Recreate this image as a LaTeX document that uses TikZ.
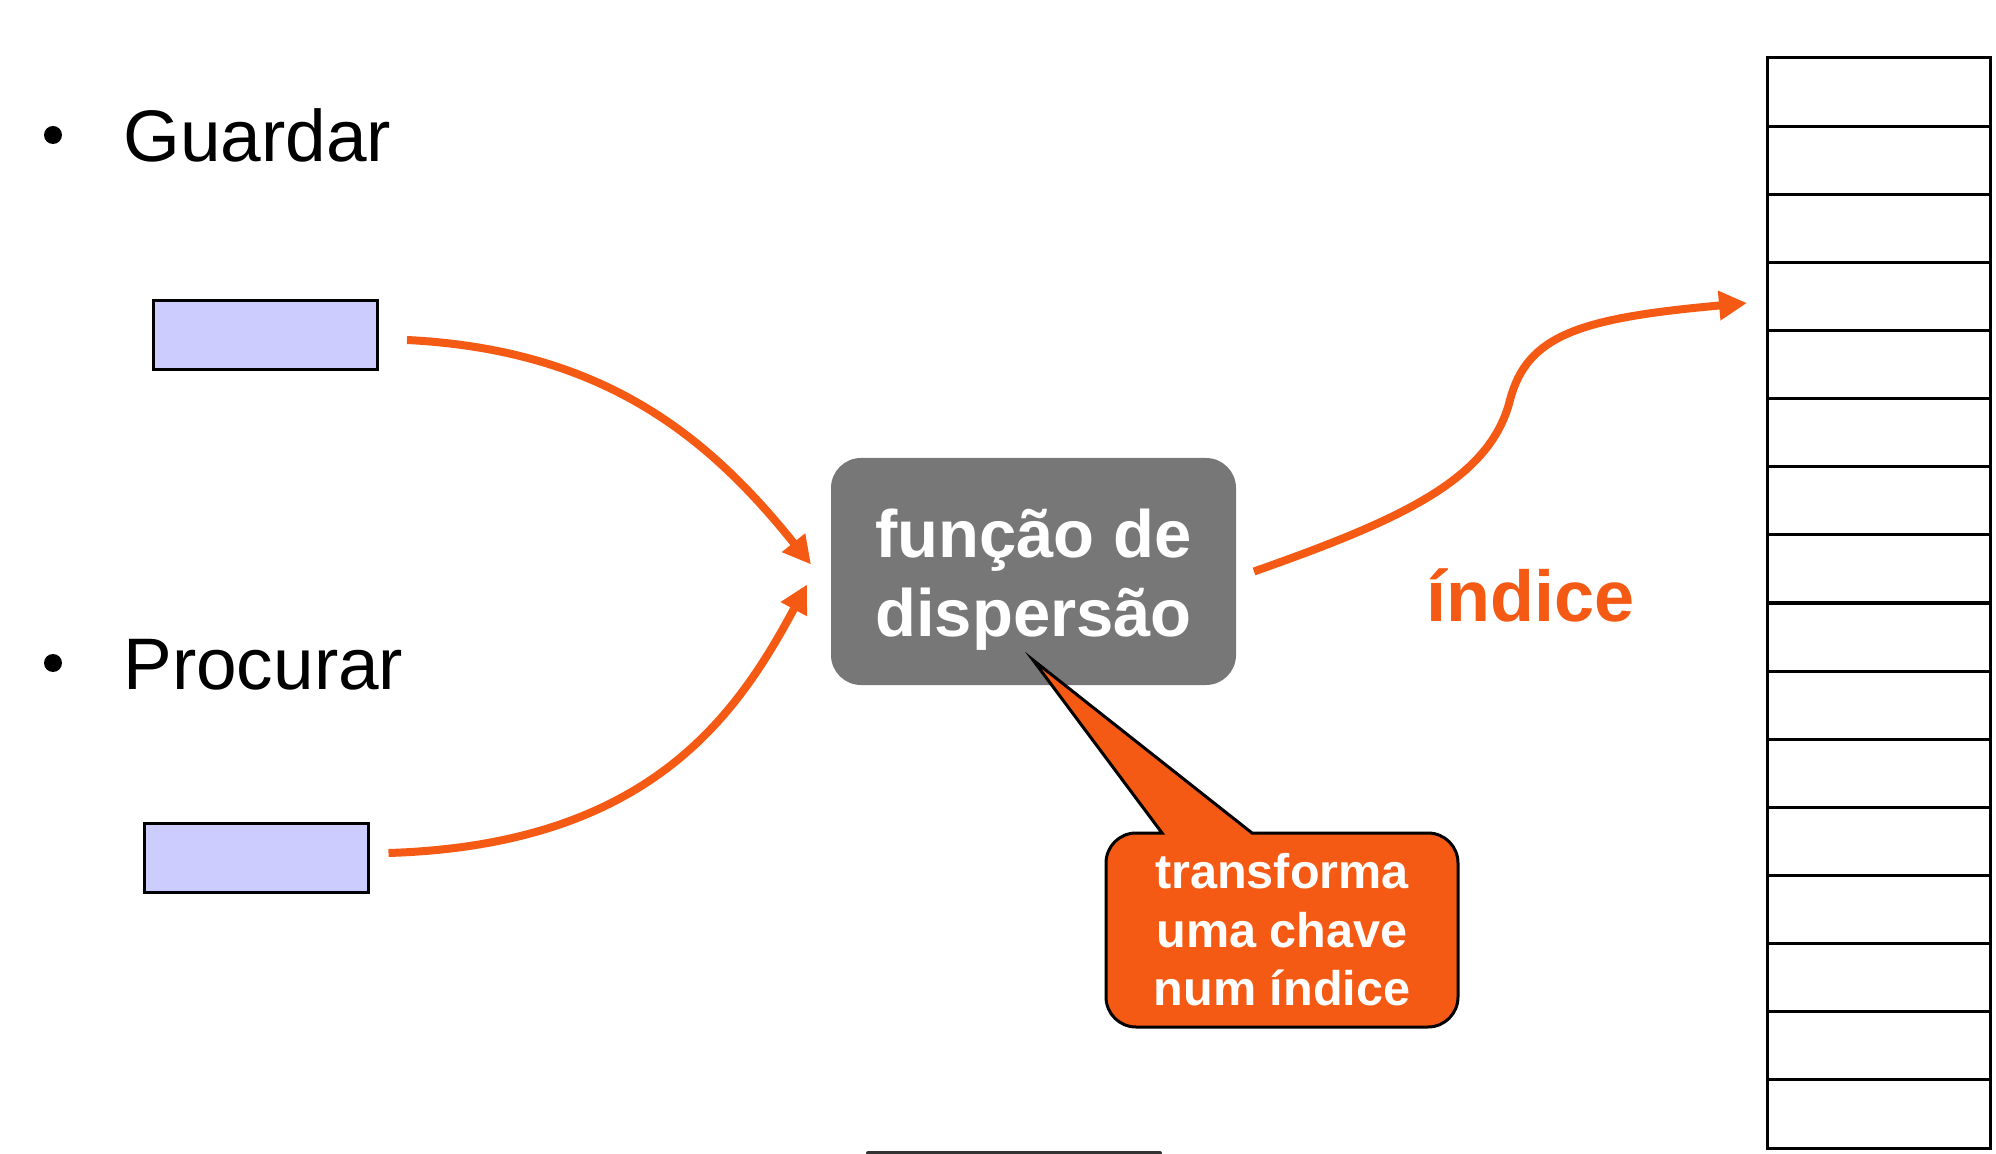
\documentclass[tikz,border=0pt]{standalone}
\usepackage{fontspec}
\setmainfont{Liberation Sans}
\usetikzlibrary{arrows.meta}
\definecolor{orng}{RGB}{245,90,20}
\definecolor{fgray}{RGB}{119,119,119}
\definecolor{kblue}{RGB}{204,204,255}
\begin{document}
\begin{tikzpicture}[x=0.5pt,y=-0.5pt,
  keybox/.style={draw=black,fill=kblue,line width=1.5pt,minimum width=112pt,minimum height=34.5pt,inner sep=0pt,outer sep=0pt},
  arr/.style={draw=orng,line width=4pt,-{Triangle[length=14pt,width=14pt]}},
  cell/.style={draw=black,line width=1.5pt,minimum width=111.5pt,minimum height=34.06pt,inner sep=0pt,outer sep=0pt},
  bigtxt/.style={font=\fontsize{36.5}{44}\selectfont,inner sep=0pt,anchor=base west},
  fntxt/.style={font=\fontsize{33.5}{40}\selectfont\bfseries,text=white,inner sep=0pt,anchor=base},
  cotxt/.style={font=\fontsize{24.3}{29}\selectfont\bfseries,text=white,inner sep=0pt,anchor=base},
  dot/.style={circle,fill=black,minimum size=9pt,inner sep=0pt}
]
\path[use as bounding box] (0,0) rectangle (1996,1154);

% bullets and labels
\node[dot] (b1) at (53,135) {};
\node[bigtxt] (guardar) at (123,162) {Guardar};
\node[dot] (b2) at (53,663) {};
\node[bigtxt] (procurar) at (123,689) {Procurar};

% key boxes
\node[keybox] (g) at (265,335) {};
\node[keybox] (p) at (256.5,858) {};

% hash function box
\node[fill=fgray,rounded corners=15pt,minimum width=202.5pt,minimum height=113.5pt,inner sep=0pt,outer sep=0pt] (fn) at (1033.5,571.5) {};
\node[fntxt] (fn1) at (1033.5,558) {função de};
\node[fntxt] (fn2) at (1033.5,636) {dispersão};

% table
\foreach \i in {1,...,16}{
  \node[cell] (r\i) at (1878.5,{58+68.125*(\i-0.5)}) {};
}

% index label
\node[font=\fontsize{36}{43}\selectfont\bfseries,text=orng,inner sep=0pt,anchor=base west] (idx) at (1426,621) {índice};

% arrows
\draw[arr] ([xshift=15pt,yshift=-2.5pt]g.east) .. controls (607,350) and (711,440) .. ([xshift=-10pt,yshift=3.5pt]fn.west);
\draw[arr] ([xshift=10pt,yshift=2.5pt]p.east) .. controls (648,845) and (736,717) .. ([xshift=-12pt,yshift=-6.5pt]fn.west);
\draw[arr] ([xshift=9pt]fn.east) .. controls (1400,520) and (1490,480) .. (1510,400)
   .. controls (1527,335) and (1580,318) .. ([xshift=-10pt,yshift=-3.3pt]r4.west);

% callout
\draw[fill=orng,line width=1.5pt,line join=miter] (1033,660) -- (1252,833) [rounded corners=15pt] -- (1458,833) -- (1458,1027) -- (1106,1027) -- (1106,833) [sharp corners] -- (1162,833) -- cycle;
\node[cotxt] (c1) at (1282,888) {transforma};
\node[cotxt] (c2) at (1282,947) {uma chave};
\node[cotxt] (c3) at (1282,1005) {num índice};

% partly visible box edge at bottom
\draw[line width=2pt,draw=black!80,line cap=round] (868,1153) -- (1160,1153);
\end{tikzpicture}
\end{document}
